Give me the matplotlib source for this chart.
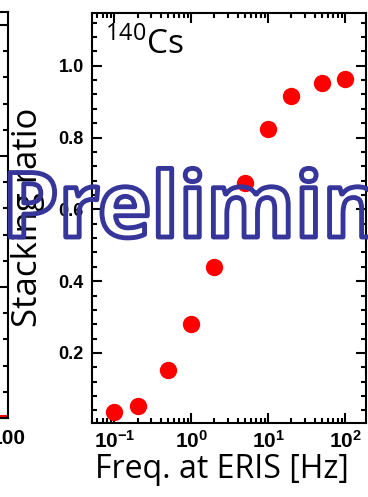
import matplotlib
matplotlib.use("Agg")
import matplotlib.pyplot as plt
import matplotlib.patheffects as pe
from matplotlib.ticker import MultipleLocator, LogLocator, FixedLocator, NullFormatter

plt.rcParams['mathtext.fontset'] = 'custom'
plt.rcParams['mathtext.rm'] = 'Open Sans'
plt.rcParams['mathtext.bf'] = 'Liberation Sans:bold'

# --- data ---
freq = [0.1, 0.2, 0.5, 1.0, 2.0, 5.0, 10.0, 20.0, 50.0, 100.0]
stacking_ratio = [0.036, 0.051, 0.154, 0.282, 0.44, 0.674, 0.825, 0.916, 0.953, 0.963]

# neighbouring panel, only its right edge is visible
left_x = [80, 100]
left_y = [0.015, 0.015]

xtick_vals = [0.1, 1, 10, 100]
xtick_labels = [r'$\mathbf{10^{-1}}$', r'$\mathbf{10^{0}}$',
                r'$\mathbf{10^{1}}$', r'$\mathbf{10^{2}}$']
ytick_vals = [0.2, 0.4, 0.6, 0.8, 1.0]
ytick_labels = ['0.2', '0.4', '0.6', '0.8', '1.0']

W, H = 368, 497
fig = plt.figure(figsize=(W / 100, H / 100), dpi=100)

def px_axes(x0, y0, x1, y1):
    # pixel box (top-left origin) -> figure fraction
    return [x0 / W, 1 - y1 / H, (x1 - x0) / W, (y1 - y0) / H]

tick_font = dict(family='Liberation Sans', weight='bold', size=13)

# --- left (cut off) panel ---
axl = fig.add_axes(px_axes(-250, 12, 8, 418))
axl.plot(left_x, left_y, color='red', lw=1.5)
axl.set_xlim(0, 100)
axl.set_ylim(0, 3.1)
axl.set_xticks([100])
axl.set_xticklabels(['100'], family='Liberation Sans', weight='bold', size=15)
axl.yaxis.set_major_locator(MultipleLocator(1))
axl.yaxis.set_minor_locator(MultipleLocator(0.2))
axl.tick_params(axis='y', which='both', direction='in', left=False, right=True,
                labelleft=False, width=1.5)
axl.tick_params(axis='y', which='major', length=7)
axl.tick_params(axis='y', which='minor', length=3.5)
axl.tick_params(axis='x', direction='in', length=0, pad=8)
for s in axl.spines.values():
    s.set_linewidth(1.5)

# --- main panel ---
ax = fig.add_axes(px_axes(92, 13, 366, 423))
ax.plot(freq, stacking_ratio, 'o', color='red', markersize=12.5, markeredgewidth=0)
ax.set_xscale('log')
ax.set_xlim(0.051, 187)
ax.set_ylim(0.005, 1.147)

ax.xaxis.set_major_locator(FixedLocator(xtick_vals))
ax.set_xticklabels(xtick_labels, fontsize=15)
ax.xaxis.set_minor_locator(LogLocator(base=10, subs=range(2, 10)))
ax.xaxis.set_minor_formatter(NullFormatter())
ax.set_yticks(ytick_vals)
ax.set_yticklabels(ytick_labels, **tick_font)
ax.yaxis.set_minor_locator(MultipleLocator(0.04))

ax.tick_params(which='both', direction='in', top=True, right=True, width=1.5)
ax.tick_params(which='major', length=7)
ax.tick_params(which='minor', length=3.5)
ax.tick_params(axis='x', pad=5)
ax.tick_params(axis='y', pad=6)
for s in ax.spines.values():
    s.set_linewidth(1.5)

ax.text(0.047, 0.965, r'$^{\mathrm{140}}$Cs', transform=ax.transAxes,
        family='Open Sans', fontsize=24, va='top', ha='left')

fig.text(222 / W, 1 - 470 / H, 'Freq. at ERIS [Hz]', family='Open Sans',
         fontsize=23, ha='center', va='center')
fig.text(28 / W, 1 - 217 / H, 'Stacking ratio', family='Open Sans',
         fontsize=25, rotation=90, ha='center', va='center')

# watermark, outline only
fig.text(2 / W, 1 - 237 / H, 'Preliminary', family='Open Sans', weight='bold',
         fontsize=65, ha='left', va='baseline', color='none',
         path_effects=[pe.withStroke(linewidth=3.5, foreground='#35359a')])

fig.savefig('out.png', dpi=100)
